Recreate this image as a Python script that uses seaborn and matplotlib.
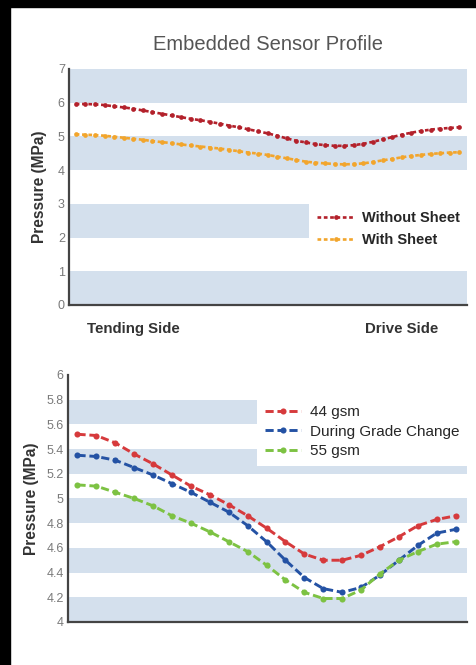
import numpy as np
import pandas as pd
import matplotlib
matplotlib.use("Agg")
import matplotlib.pyplot as plt
import seaborn as sns
from matplotlib.patches import Rectangle

# Embedded sensor profile readings (MPa) across the roll, tending -> drive side

without_sheet = [5.96, 5.96, 5.95, 5.93, 5.89, 5.86, 5.82, 5.77, 5.72, 5.67,
                 5.62, 5.57, 5.52, 5.48, 5.43, 5.38, 5.32, 5.27, 5.21, 5.15,
                 5.09, 5.02, 4.94, 4.87, 4.82, 4.77, 4.74, 4.72, 4.72, 4.74,
                 4.78, 4.84, 4.91, 4.98, 5.05, 5.11, 5.16, 5.20, 5.23, 5.25, 5.27]
with_sheet = [5.06, 5.05, 5.04, 5.02, 4.99, 4.96, 4.93, 4.90, 4.86, 4.83,
              4.80, 4.76, 4.73, 4.70, 4.67, 4.64, 4.60, 4.56, 4.52, 4.49,
              4.45, 4.40, 4.35, 4.30, 4.25, 4.22, 4.20, 4.18, 4.17, 4.18,
              4.20, 4.24, 4.29, 4.33, 4.38, 4.42, 4.45, 4.48, 4.50, 4.52, 4.53]

gsm44 = [5.52, 5.51, 5.45, 5.36, 5.28, 5.19, 5.10, 5.03, 4.95, 4.86, 4.76,
         4.65, 4.55, 4.50, 4.50, 4.54, 4.61, 4.69, 4.78, 4.83, 4.86]
grade_change = [5.35, 5.34, 5.31, 5.25, 5.19, 5.12, 5.05, 4.97, 4.89, 4.78, 4.65,
                4.50, 4.36, 4.27, 4.24, 4.28, 4.38, 4.50, 4.62, 4.72, 4.75]
gsm55 = [5.11, 5.10, 5.05, 5.00, 4.94, 4.86, 4.80, 4.73, 4.65, 4.57, 4.46,
         4.34, 4.24, 4.19, 4.19, 4.26, 4.39, 4.50, 4.57, 4.63, 4.65]

top_ticks = [0, 1, 2, 3, 4, 5, 6, 7]
top_tick_labels = ["0", "1", "2", "3", "4", "5", "6", "7"]
side_labels = ["Tending Side", "Drive Side"]
side_pos = [6, 34]
bottom_ticks = [4, 4.2, 4.4, 4.6, 4.8, 5, 5.2, 5.4, 5.6, 5.8, 6]
bottom_tick_labels = ["4", "4.2", "4.4", "4.6", "4.8", "5", "5.2", "5.4", "5.6", "5.8", "6"]
top_bands = [(0, 1), (2, 3), (4, 5), (6, 7)]
bottom_bands = [(4, 4.2), (4.4, 4.6), (4.8, 5.0), (5.2, 5.4), (5.6, 5.8)]

sns.set_style("white")
plt.rcParams["font.family"] = ["Liberation Sans", "DejaVu Sans"]

band_col = "#d4e0ed"
spine_col = "#444444"
tick_col = "#7a7a7a"

fig = plt.figure(figsize=(4.77, 6.65), dpi=100)
fig.patches.append(Rectangle((0, 0), 10 / 477, 1, transform=fig.transFigure, color="black", zorder=10))
fig.patches.append(Rectangle((0, 1 - 7 / 665), 1, 7 / 665, transform=fig.transFigure, color="black", zorder=10))

ax1 = fig.add_axes([0.1447, 0.5414, 0.8344, 0.3549])
ax2 = fig.add_axes([0.1426, 0.0647, 0.8365, 0.3714])

# top chart
df_top = pd.DataFrame({"pos": np.arange(len(without_sheet)),
                       "Without Sheet": without_sheet, "With Sheet": with_sheet})
for lo, hi in top_bands:
    ax1.axhspan(lo, hi, color=band_col, lw=0, zorder=0)
for name, col in [("Without Sheet", "#b3212b"), ("With Sheet", "#f2a52c")]:
    sns.lineplot(data=df_top, x="pos", y=name, ax=ax1, color=col, label=name,
                 marker="o", markersize=3.4, markeredgewidth=0, lw=1.9,
                 linestyle=(0, (1.4, 1.0)))
ax1.set_xlim(-0.7, 40.8)
ax1.set_ylim(0, 7)
ax1.set_yticks(top_ticks)
ax1.set_yticklabels(top_tick_labels)
ax1.set_xticks(side_pos)
ax1.set_xticklabels(side_labels, fontsize=10.8, fontweight="bold", color="#333333")
ax1.tick_params(axis="x", length=0, pad=12)
ax1.set_xlabel("")
ax1.set_title("Embedded Sensor Profile", fontsize=14.5, color="#555555", pad=14)
leg1 = ax1.legend(loc="upper right", bbox_to_anchor=(1.0, 0.427), borderaxespad=0,
                  frameon=True, facecolor="white", edgecolor="none", framealpha=1,
                  prop={"size": 10.5, "weight": "bold"}, handlelength=2.6,
                  handletextpad=0.5, labelspacing=0.52, borderpad=0.5, fancybox=False)

# bottom chart
df_bot = pd.DataFrame({"pos": np.arange(len(gsm44)), "44 gsm": gsm44,
                       "During Grade Change": grade_change, "55 gsm": gsm55})
for lo, hi in bottom_bands:
    ax2.axhspan(lo, hi, color=band_col, lw=0, zorder=0)
for name, col in [("44 gsm", "#d63a3c"), ("During Grade Change", "#2452a4"), ("55 gsm", "#7dc243")]:
    sns.lineplot(data=df_bot, x="pos", y=name, ax=ax2, color=col, label=name,
                 marker="o", markersize=4.4, markeredgewidth=0, lw=2.1,
                 linestyle=(0, (2.8, 1.3)))
ax2.set_xlim(-0.5, 20.6)
ax2.set_ylim(4, 6)
ax2.set_yticks(bottom_ticks)
ax2.set_yticklabels(bottom_tick_labels)
ax2.set_xticks([])
ax2.set_xlabel("")
leg2 = ax2.legend(loc="upper right", bbox_to_anchor=(1.0, 0.91), borderaxespad=0,
                  frameon=True, facecolor="white", edgecolor="none", framealpha=1,
                  prop={"size": 11}, handlelength=2.4, handletextpad=0.55,
                  labelspacing=0.38, borderpad=0.5, fancybox=False)

for ax in (ax1, ax2):
    sns.despine(ax=ax)
    ax.spines["left"].set_color(spine_col)
    ax.spines["bottom"].set_color(spine_col)
    ax.spines["left"].set_linewidth(1.6)
    ax.spines["bottom"].set_linewidth(1.6)
    ax.tick_params(axis="y", length=0, pad=3, labelsize=9, labelcolor=tick_col)
    ax.set_ylabel("Pressure (MPa)", fontsize=11.2, fontweight="bold", color="#333333")
    ax.set_facecolor("white")
ax1.yaxis.set_label_coords(-0.055, 0.5)
ax2.yaxis.set_label_coords(-0.073, 0.5)

fig.savefig("out.png", dpi=100)
